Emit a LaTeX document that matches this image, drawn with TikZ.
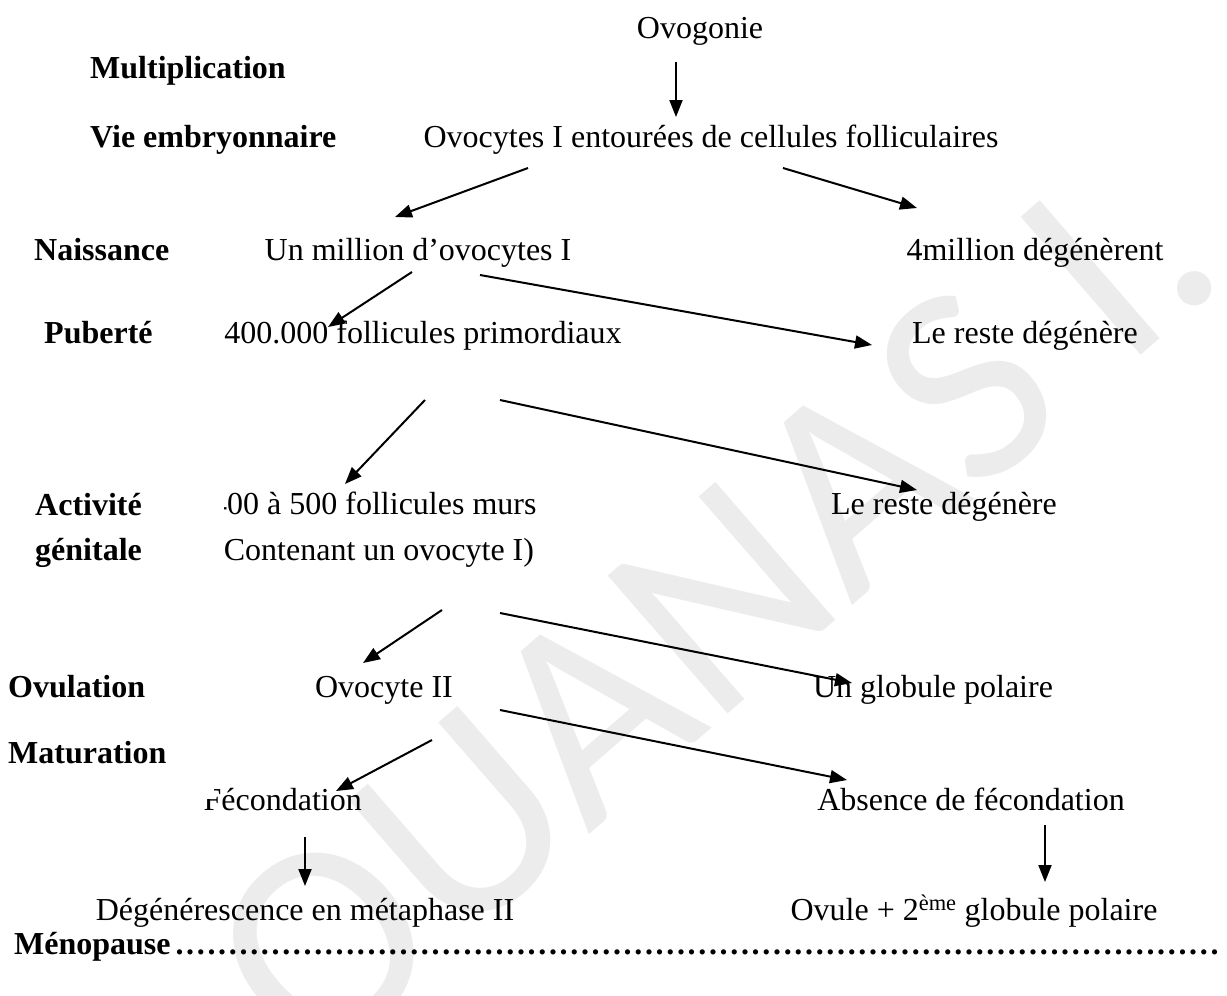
\documentclass[tikz,border=0pt]{standalone}
\usepackage{fontspec}
\setmainfont{Liberation Serif}
\newfontfamily\wmfont{Carlito}
\usetikzlibrary{arrows.meta}
\definecolor{wmgray}{gray}{0.925}
\begin{document}
\begin{tikzpicture}[x=1pt,y=-1pt,
  txt/.style={font=\fontsize{32}{38}\selectfont, inner sep=0pt, anchor=base},
  lbl/.style={font=\fontsize{32}{38}\selectfont\bfseries, inner sep=0pt, anchor=base west},
  arr/.style={line width=2pt, -{Triangle[length=17pt,width=13pt]}},
  wm/.style={font=\wmfont\fontsize{285}{285}\selectfont, text=wmgray, rotate=41, anchor=base east, inner sep=0pt}]
\useasboundingbox (0,0) rectangle (1227,996);
% watermark
\node[wm] (wm) at (1232,276) {OUANAS I.};
% left labels
\node[lbl] (lmult) at (90,78) {Multiplication};
\node[lbl] (lvie) at (90,147) {Vie embryonnaire};
\node[lbl] (lnai) at (34,260) {Naissance};
\node[lbl] (lpub) at (44,343) {Puberté};
\node[lbl] (lact) at (35,515) {Activité};
\node[lbl] (lgen) at (35,560) {génitale};
\node[lbl] (lovu) at (8,697) {Ovulation};
\node[lbl] (lmat) at (8,763) {Maturation};
\node[lbl] (lmeno) at (14,954) {\hbox to 1211pt{Ménopause\leaders\hbox to 10.67pt{\hss.\hss}\hfill}};
% main texts
\node[txt] (ovog) at (700,38) {Ovogonie};
\node[txt] (ovoI) at (711,147) {Ovocytes I entourées de cellules folliculaires};
\node[txt] (mil) at (418,260) {Un million d’ovocytes I};
\node[txt] (deg4) at (1035,260) {4million dégénèrent};
\node[txt] (prim) at (423,343) {400.000 follicules primordiaux};
\node[txt] (rest1) at (1025,343) {Le reste dégénère};
\begin{scope}
\clip (224,470) rectangle (700,590);
\node[txt, anchor=base west] (murs) at (211,514) {400 à 500 follicules murs};
\node[txt, anchor=base west] (cont) at (213,560) {(Contenant un ovocyte I)};
\end{scope}
\node[txt] (rest2) at (944,514) {Le reste dégénère};
\node[txt] (ovoII) at (384,697) {Ovocyte II};
\node[txt] (glob) at (933,697) {Un globule polaire};
\node[txt, anchor=base east] (fec) at (362,810) {Fécondation};
\fill[white] (198,785) rectangle (214,799);
\node[txt] (abs) at (971,810) {Absence de fécondation};
\node[txt] (dege) at (305,920) {Dégénérescence en métaphase II};
\node[txt] (ovule) at (974,920) {Ovule + 2\textsuperscript{ème} globule polaire};
% arrow end points
\coordinate (a1s) at (676,62);  \coordinate (a1e) at (676,117);
\coordinate (a2s) at (528,168); \coordinate (a2e) at (395,217);
\coordinate (a3s) at (783,168); \coordinate (a3e) at (917,208);
\coordinate (a4s) at (412,272); \coordinate (a4e) at (328,327);
\coordinate (a5s) at (480,275); \coordinate (a5e) at (872,345);
\coordinate (a6s) at (425,400); \coordinate (a6e) at (345,484);
\coordinate (a7s) at (500,400); \coordinate (a7e) at (917,490);
\coordinate (a8s) at (442,610); \coordinate (a8e) at (363,663);
\coordinate (a9s) at (500,613); \coordinate (a9e) at (852,683);
\coordinate (a10s) at (432,740); \coordinate (a10e) at (336,791);
\coordinate (a11s) at (500,710); \coordinate (a11e) at (847,780);
\coordinate (a12s) at (305,837); \coordinate (a12e) at (305,886);
\coordinate (a13s) at (1045,825); \coordinate (a13e) at (1045,882);
\foreach \i in {1,...,13} {\draw[arr] (a\i s) -- (a\i e);}
\end{tikzpicture}
\end{document}
